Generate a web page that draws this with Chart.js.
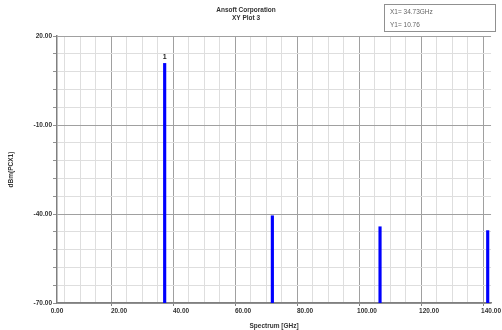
<!DOCTYPE html>
<html>
<head>
<meta charset="utf-8">
<script src="https://cdn.jsdelivr.net/npm/chart.js@4"></script>
<style>
  html, body { margin: 0; padding: 0; background: #fff; }
  #wrap { width: 502px; height: 330px; position: relative; }
</style>
</head>
<body>
<div id="wrap"><canvas id="chart"></canvas></div>
<script>
// spectrum lines (GHz, dBm)
const freqs = [34.73, 69.46, 104.19, 138.92];
const levels = [10.76, -40.6, -44.3, -45.6];
const yMajorTicks = [-70, -40, -10, 20];
const xMajorTicks = [0, 20, 40, 60, 80, 100, 120, 140];
const chartTitle = ['Ansoft Corporation', 'XY Plot 3'];
const markerLines = ['X1= 34.73GHz', 'Y1= 10.76'];

const FONT = '"Liberation Sans", Arial, sans-serif';
const TEXT = '#333333';

// title, marker box, "1" marker label
const decorations = {
    id: 'decorations',
    afterDraw(chart) {
        const ctx = chart.ctx;
        const x = chart.scales.x, y = chart.scales.y;
        ctx.save();
        ctx.fillStyle = TEXT;
        ctx.font = 'bold 6.5px ' + FONT;
        ctx.textAlign = 'center';
        ctx.textBaseline = 'middle';
        ctx.fillText(chartTitle[0], 246, 10);
        ctx.fillText(chartTitle[1], 246, 18);

        // marker readout box
        ctx.strokeStyle = '#909090';
        ctx.lineWidth = 1;
        ctx.strokeRect(384.5, 4.5, 111, 27);
        ctx.font = '6.5px ' + FONT;
        ctx.textAlign = 'left';
        ctx.fillStyle = '#666';
        ctx.fillText(markerLines[0], 390, 12);
        ctx.fillText(markerLines[1], 390, 25);

        // marker number above the first line
        ctx.font = 'bold 7px ' + FONT;
        ctx.textAlign = 'center';
        ctx.fillStyle = '#222';
        ctx.fillText('1', x.getPixelForValue(freqs[0]), y.getPixelForValue(levels[0]) - 6);
        ctx.restore();
    }
};

const ctx = document.getElementById('chart').getContext('2d');
new Chart(ctx, {
    type: 'bar',
    data: {
        datasets: [{
            data: freqs.map((f, i) => ({ x: f, y: [-70, levels[i]] })),
            backgroundColor: '#0000ff',
            borderWidth: 0,
            barThickness: 2.5
        }]
    },
    options: {
        responsive: true,
        maintainAspectRatio: false,
        animation: false,
        layout: { padding: { top: 36, right: 9, left: 0, bottom: 0 } },
        plugins: {
            legend: { display: false },
            tooltip: { enabled: false }
        },
        scales: {
            x: {
                type: 'linear',
                min: 0,
                max: 140,
                offset: false,
                afterFit: (s) => { s.height = 27; },
                ticks: {
                    stepSize: 5,
                    autoSkip: false,
                    maxRotation: 0,
                    padding: 1,
                    color: TEXT,
                    font: { family: FONT, size: 6.5, weight: 'bold' },
                    callback: (v) => xMajorTicks.includes(v) ? v.toFixed(2) : ''
                },
                grid: {
                    color: (c) => (c.tick && xMajorTicks.includes(c.tick.value)) ? '#a0a0a0' : '#dedede',
                    tickLength: 3,
                    tickColor: (c) => (c.tick && xMajorTicks.includes(c.tick.value)) ? '#808080' : 'rgba(0,0,0,0)'
                },
                border: { color: '#808080', width: 1.5 },
                title: {
                    display: true,
                    text: 'Spectrum [GHz]',
                    color: TEXT,
                    font: { family: FONT, size: 6.5, weight: 'bold' },
                    padding: { top: 1, bottom: 0 }
                }
            },
            y: {
                min: -70,
                max: 20,
                afterFit: (s) => { s.width = 57; },
                ticks: {
                    stepSize: 6,
                    autoSkip: false,
                    padding: 1,
                    color: TEXT,
                    font: { family: FONT, size: 6.5, weight: 'bold' },
                    callback: (v) => yMajorTicks.includes(v) ? v.toFixed(2) : ''
                },
                grid: {
                    color: (c) => (c.tick && yMajorTicks.includes(c.tick.value)) ? '#a0a0a0' : '#dedede',
                    tickLength: 4,
                    tickColor: '#909090'
                },
                border: { color: '#808080', width: 1.5 },
                title: {
                    display: true,
                    text: 'dBm(PCX1)',
                    color: TEXT,
                    font: { family: FONT, size: 6.5, weight: 'bold' },
                    padding: { top: 7, bottom: 0 }
                }
            }
        }
    },
    plugins: [decorations]
});
</script>
</body>
</html>
